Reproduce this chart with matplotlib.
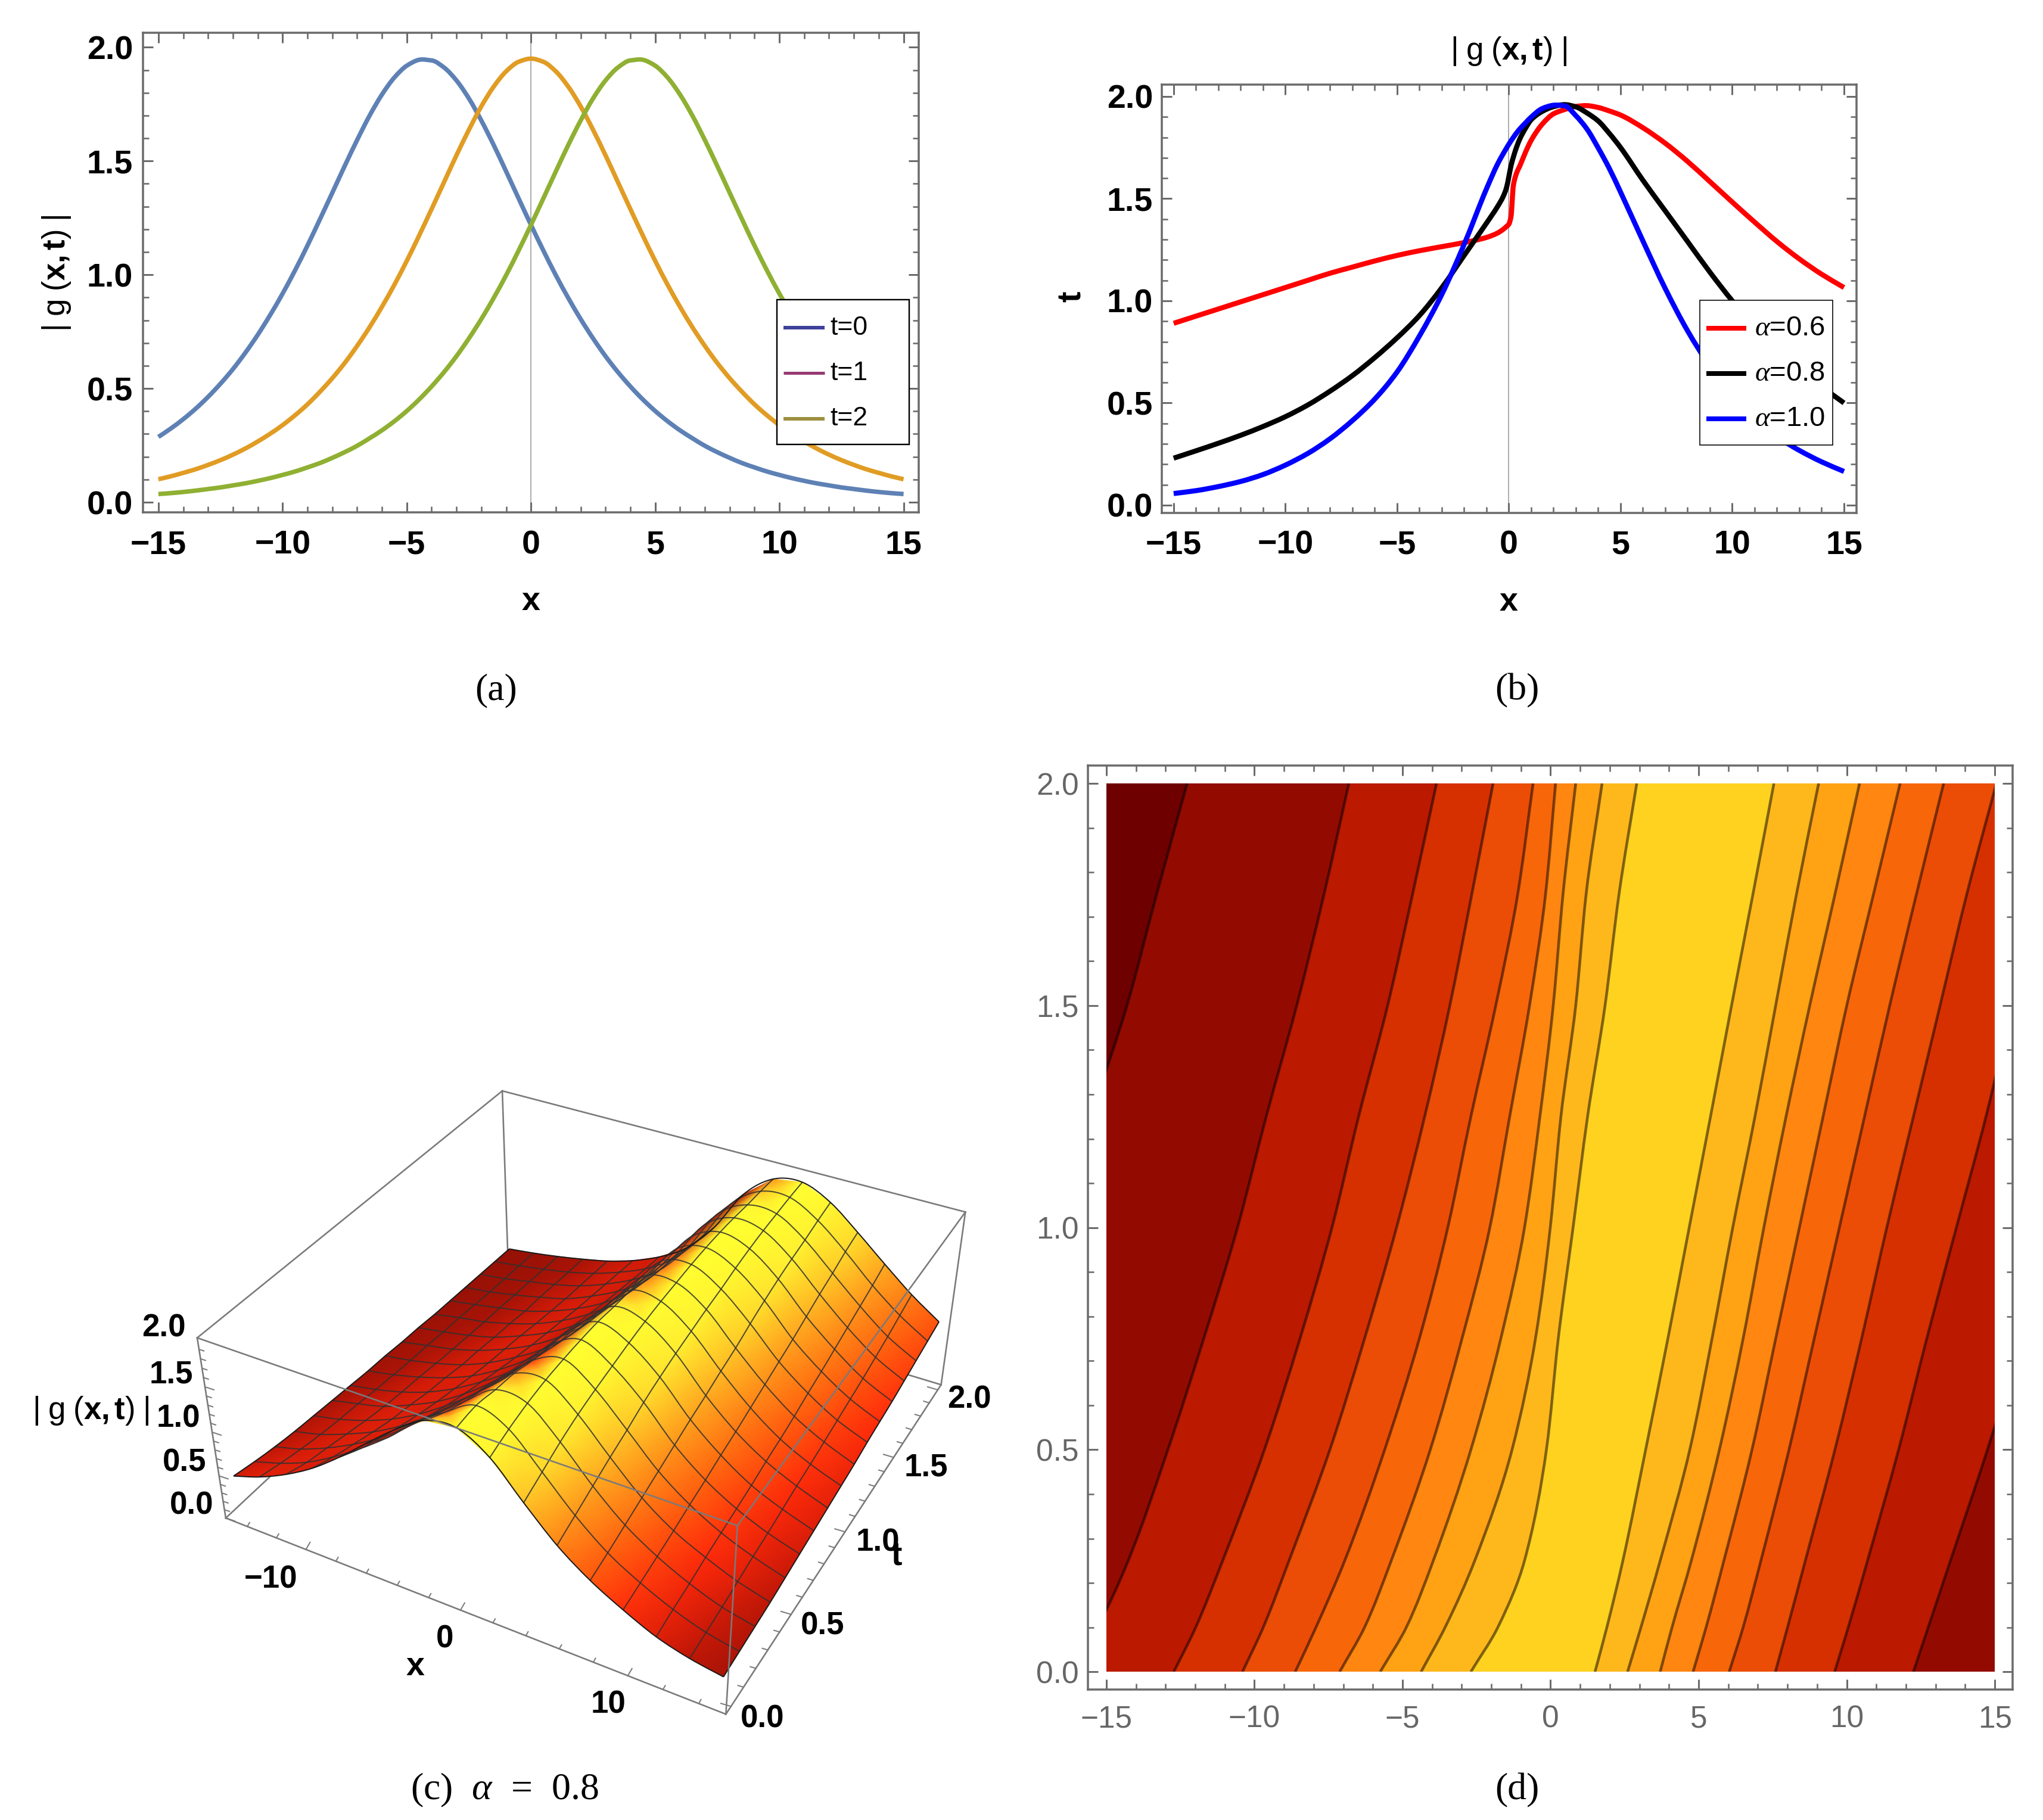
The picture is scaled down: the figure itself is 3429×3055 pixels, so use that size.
import numpy as np
import matplotlib
matplotlib.use("Agg")
import matplotlib.pyplot as plt
from matplotlib.colors import LinearSegmentedColormap
from matplotlib.patches import PathPatch, Rectangle
from matplotlib.path import Path

W, H = 3430, 3055
DPI = 100
SANS = "Liberation Sans"
SERIF = "Liberation Serif"
GREY = "#6b6b6b"
BOX_GREY = "#7a7a7a"

plt.rcParams["font.family"] = SANS
plt.rcParams["mathtext.fontset"] = "custom"
plt.rcParams["mathtext.it"] = "Liberation Serif:italic"
plt.rcParams["mathtext.rm"] = "Liberation Serif"
plt.rcParams["mathtext.sf"] = "Liberation Sans"
plt.rcParams["mathtext.bf"] = "Liberation Sans:bold"

# panel (a): |g| against x at three times
x_a = [-15 + 0.5 * i for i in range(61)]
g_t0 = [.287,.324,.365,.411,.463,.521,.585,.657,.736,.823,.917,1.019,1.128,1.243,1.360,1.478,1.592,1.699,1.792,1.867,1.919,1.945,1.942,1.911,1.854,1.775,1.678,1.570,1.454,1.336,1.219,1.106,.998,.898,.805,.720,.642,.572,.509,.452,.401,.356,.316,.281,.248,.220,.195,.172,.153,.135,.120,.106,.094,.083,.074,.065,.058,.051,.045,.040,.036]
g_t1 = [.101,.114,.129,.145,.164,.185,.209,.236,.267,.301,.339,.382,.430,.485,.545,.612,.687,.769,.859,.956,1.061,1.173,1.289,1.407,1.525,1.637,1.740,1.827,1.894,1.936,1.950,1.936,1.894,1.827,1.740,1.637,1.525,1.407,1.289,1.173,1.061,.956,.859,.769,.687,.612,.545,.485,.430,.382,.339,.301,.267,.236,.209,.185,.164,.145,.129,.114,.101]
g_t2 = [.036,.040,.045,.051,.058,.065,.074,.083,.094,.106,.120,.135,.153,.172,.195,.220,.248,.281,.316,.356,.401,.452,.509,.572,.642,.720,.805,.898,.998,1.106,1.219,1.336,1.454,1.570,1.678,1.775,1.854,1.911,1.942,1.945,1.919,1.867,1.792,1.699,1.592,1.478,1.360,1.243,1.128,1.019,.917,.823,.736,.657,.585,.521,.463,.411,.365,.324,.287]
legend_a = ["t=0", "t=1", "t=2"]

# panel (b): |g| against x for three fractional orders
x_b = [-15,-14,-13,-12,-11,-10,-9,-8,-7,-6,-5,-4,-3,-2,-1,-.5,-.25,-.1,0,.1,.2,.35,.5,.75,1,1.5,2,2.5,3,3.5,4,4.5,5,6,7,8,9,10,11,12,13,14,15]
g_a06 = [.890,.925,.960,.995,1.030,1.065,1.100,1.135,1.165,1.195,1.222,1.245,1.265,1.285,1.310,1.332,1.350,1.364,1.375,1.414,1.562,1.626,1.662,1.728,1.785,1.865,1.915,1.936,1.951,1.955,1.946,1.929,1.909,1.847,1.771,1.682,1.583,1.483,1.385,1.290,1.205,1.130,1.065]
g_a08 = [.230,.266,.303,.342,.385,.433,.490,.558,.634,.722,.819,.928,1.064,1.222,1.380,1.462,1.511,1.555,1.607,1.662,1.702,1.753,1.794,1.845,1.886,1.927,1.950,1.960,1.949,1.919,1.880,1.819,1.750,1.590,1.440,1.290,1.140,1.000,.875,.765,.665,.580,.500]
g_a10 = [.057,.071,.091,.116,.150,.196,.253,.325,.414,.519,.652,.828,1.031,1.276,1.548,1.670,1.720,1.748,1.766,1.783,1.799,1.822,1.842,1.871,1.899,1.941,1.957,1.954,1.906,1.840,1.748,1.647,1.532,1.293,1.060,.853,.679,.530,.420,.335,.268,.212,.165]
legend_b = [r"$\alpha$=0.6", r"$\alpha$=0.8", r"$\alpha$=1.0"]

# panel (c): surface heights, one row per t, one column per x
x_c = [-15 + 1.875 * i for i in range(17)]
t_c = [0.125 * i for i in range(17)]
z_c = [
    [.46,.57,.72,.91,1.15,1.42,1.68,1.89,1.93,1.74,1.39,1.06,.81,.62,.46,.36,.30],
    [.41,.51,.64,.82,1.03,1.27,1.55,1.77,1.95,1.82,1.49,1.15,.87,.67,.51,.39,.32],
    [.37,.46,.59,.75,.94,1.18,1.43,1.68,1.91,1.88,1.59,1.24,.94,.72,.55,.42,.34],
    [.34,.42,.54,.68,.86,1.08,1.34,1.61,1.88,1.92,1.67,1.33,1.01,.77,.60,.46,.36],
    [.32,.39,.49,.62,.79,1.00,1.24,1.51,1.82,1.94,1.73,1.41,1.08,.83,.64,.50,.39],
    [.30,.37,.45,.58,.73,.93,1.17,1.45,1.79,1.95,1.78,1.50,1.15,.88,.68,.53,.42],
    [.28,.34,.42,.53,.68,.87,1.09,1.37,1.74,1.95,1.83,1.57,1.22,.94,.72,.57,.45],
    [.26,.32,.40,.50,.63,.81,1.03,1.30,1.67,1.93,1.87,1.63,1.28,.99,.77,.61,.48],
    [.25,.30,.37,.46,.59,.76,.96,1.23,1.60,1.92,1.90,1.68,1.35,1.05,.81,.64,.51],
    [.23,.29,.35,.44,.56,.71,.91,1.17,1.56,1.90,1.92,1.73,1.41,1.11,.86,.68,.54],
    [.22,.27,.33,.41,.53,.67,.86,1.12,1.50,1.88,1.94,1.77,1.49,1.17,.92,.72,.58],
    [.20,.26,.31,.39,.49,.63,.81,1.06,1.43,1.84,1.95,1.82,1.56,1.23,.97,.76,.61],
    [.19,.24,.30,.36,.46,.59,.76,1.00,1.38,1.80,1.95,1.86,1.62,1.30,1.03,.80,.64],
    [.18,.22,.28,.35,.43,.56,.72,.94,1.32,1.77,1.94,1.89,1.67,1.37,1.09,.85,.68],
    [.17,.21,.27,.33,.41,.53,.68,.89,1.25,1.73,1.92,1.91,1.71,1.43,1.15,.90,.72],
    [.16,.20,.25,.31,.39,.50,.64,.85,1.20,1.68,1.91,1.93,1.76,1.50,1.21,.96,.76],
    [.15,.19,.24,.30,.37,.47,.61,.81,1.15,1.63,1.89,1.94,1.80,1.55,1.28,1.02,.80],
]

# panel (d): x position of each contour line at these t rows, left to right
t_d = [0, .1, .25, .5, .75, 1, 1.25, 1.5, 1.75, 2]
contour_x = [
    [-21.5,-20.8,-20,-18.6,-17.5,-16.5,-15.5,-14.3,-13.3,-12.27],
    [-16.2,-15.3,-14.26,-12.92,-11.71,-10.57,-9.6,-8.57,-7.65,-6.81],
    [-12.72,-11.98,-11.07,-9.66,-8.46,-7.38,-6.48,-5.5,-4.66,-3.85],
    [-10.4,-9.7,-8.83,-7.45,-6.28,-5.2,-4.25,-3.4,-2.66,-1.94],
    [-8.62,-7.92,-6.95,-5.6,-4.43,-3.47,-2.69,-1.85,-1.11,-.59],
    [-7.12,-6.28,-5.38,-4.06,-2.99,-2.05,-1.38,-.71,-.17,.17],
    [-5.75,-4.87,-3.96,-2.69,-1.68,-.88,-.36,.09,.42,.85],
    [-4.37,-3.56,-2.56,-1.30,-.51,-.01,.35,.85,1.2,1.74],
    [-2.69,-1.78,-.88,-.14,.26,.76,1.25,1.84,2.31,2.91],
    [1.5,1.9,2.44,3.21,3.96,4.68,5.4,6.11,6.83,7.54],
    [2.6,3.05,3.7,4.7,5.45,6.15,6.9,7.6,8.3,9.05],
    [3.7,4.1,4.75,5.7,6.5,7.2,7.95,8.75,9.6,10.43],
    [4.81,5.25,5.85,6.8,7.6,8.4,9.2,10.0,10.9,11.8],
    [6.03,6.5,7.1,8.05,8.9,9.75,10.6,11.45,12.35,13.27],
    [7.59,8.0,8.6,9.6,10.5,11.35,12.25,13.15,14.05,15.05],
    [9.59,10.05,10.7,11.75,12.7,13.7,14.7,15.6,16.6,17.6],
    [12.25,12.75,13.5,14.75,15.9,17,18.1,19.2,20.3,21.4],
]
band_colors = ["#6e0000","#930b00","#bb1900","#d63000","#eb4d06","#f8660a","#ff8610","#ffa214","#ffb81c","#ffd220",
               "#ffb81c","#ffa214","#ff8610","#f8660a","#eb4d06","#d63000","#bb1900","#930b00"]

GX_LABEL = r"$\mathsf{|\ g\ (}\mathbf{x,t}\mathsf{)\ |}$"


def px(v):
    return v * 72 / DPI


def curve_through(xk, yk):
    # bezier segments through the read points, the points themselves stay as they are
    xk = np.asarray(xk, float)
    yk = np.asarray(yk, float)
    h = np.diff(xk)
    d = np.diff(yk) / h
    m = np.zeros_like(yk)
    m[0], m[-1] = d[0], d[-1]
    for i in range(1, len(xk) - 1):
        if d[i - 1] * d[i] > 0:
            w1, w2 = 2 * h[i] + h[i - 1], h[i] + 2 * h[i - 1]
            m[i] = (w1 + w2) / (w1 / d[i - 1] + w2 / d[i])
        else:
            # at a peak keep the central slope, a zero slope flattens the top
            m[i] = (yk[i + 1] - yk[i - 1]) / (xk[i + 1] - xk[i - 1])
    verts = [(xk[0], yk[0])]
    for i in range(len(h)):
        verts.append((xk[i] + h[i] / 3, yk[i] + m[i] * h[i] / 3))
        verts.append((xk[i + 1] - h[i] / 3, yk[i + 1] - m[i + 1] * h[i] / 3))
        verts.append((xk[i + 1], yk[i + 1]))
    return verts


def bezier_codes(n):
    return [Path.MOVETO] + [Path.CURVE4] * (n - 1)


def screen_curve(xs, ys):
    # catmull-rom through projected points
    p = np.column_stack([xs, ys])
    verts = [tuple(p[0])]
    for i in range(len(p) - 1):
        p0 = p[max(i - 1, 0)]
        p3 = p[min(i + 2, len(p) - 1)]
        verts.append(tuple(p[i] + (p[i + 1] - p0) / 6))
        verts.append(tuple(p[i + 1] - (p3 - p[i]) / 6))
        verts.append(tuple(p[i + 1]))
    return Path(verts, bezier_codes(len(verts)))


fig = plt.figure(figsize=(W / DPI, H / DPI), dpi=DPI)
page = fig.add_axes([0, 0, 1, 1], zorder=5)
page.set_xlim(0, W)
page.set_ylim(H, 0)
page.axis("off")


def panel(left, top, right, bottom, xlim, ylim, label_size, color, weight, pad_x, pad_y):
    ax = fig.add_axes([left / W, 1 - bottom / H, (right - left) / W, (bottom - top) / H])
    ax.set_xlim(*xlim)
    ax.set_ylim(*ylim)
    ax.set_xticks(np.arange(-15, 16, 5))
    ax.set_xticks(np.arange(-15, 16, 1), minor=True)
    ax.set_yticks(np.arange(0, 2.01, 0.5))
    ax.set_yticks(np.arange(0, 2.01, 0.1), minor=True)
    ax.set_yticklabels(["0.0", "0.5", "1.0", "1.5", "2.0"])
    ax.tick_params(which="major", direction="in", length=px(17), width=px(3), color=GREY, top=True, right=True)
    ax.tick_params(which="minor", direction="in", length=px(10), width=px(2.6), color=GREY, top=True, right=True)
    ax.tick_params(axis="x", which="major", pad=px(pad_x), labelsize=label_size, labelcolor=color)
    ax.tick_params(axis="y", which="major", pad=px(pad_y), labelsize=label_size, labelcolor=color)
    for lab in ax.get_xticklabels() + ax.get_yticklabels():
        lab.set_fontweight(weight)
    for sp in ax.spines.values():
        sp.set_color(GREY)
        sp.set_linewidth(px(3.5))
    return ax


def draw_curve(ax, xs, ys, color, width):
    verts = curve_through(xs, ys)
    ax.add_patch(PathPatch(Path(verts, bezier_codes(len(verts))), fill=False, ec=color, lw=px(width),
                           capstyle="butt", zorder=2))


# (a)
ax_a = panel(240, 54.5, 1542, 860, (-15.62, 15.61), (-0.0445, 2.065), 40, "black", "bold", 29, 17)
ax_a.axvline(0, color="#9a9a9a", lw=px(1.6), zorder=1)
draw_curve(ax_a, x_a, g_t0, "#5e81b5", 7.5)
draw_curve(ax_a, x_a, g_t1, "#e19c24", 7.5)
draw_curve(ax_a, x_a, g_t2, "#8fb032", 7.5)

# (b)
ax_b = panel(1950, 142, 3116, 861, (-15.53, 15.56), (-0.038, 2.058), 40, "black", "bold", 29, 15)
ax_b.axvline(0, color="#9a9a9a", lw=px(1.6), zorder=1)
draw_curve(ax_b, x_b, g_a06, "#ff0000", 8.5)
draw_curve(ax_b, x_b, g_a08, "#000000", 8.5)
draw_curve(ax_b, x_b, g_a10, "#0000ff", 8.5)

# (d)
ax_d = panel(1826, 1284.5, 3378, 2836, (-15.62, 15.6), (-0.04, 2.041), 37, "#666666", "normal", 26, 15)
clip_d = Rectangle((-15, 0), 30, 2, transform=ax_d.transData)
base = ax_d.fill_betweenx(t_d, -40, 40, color=band_colors[0], lw=0, zorder=1)
base.set_clip_path(clip_d)
contour_paths = []
for i, xs in enumerate(contour_x):
    verts = [(v, u) for u, v in curve_through(t_d, xs)]
    contour_paths.append(Path(verts, bezier_codes(len(verts))))
    outline = Path(verts + [(40, t_d[-1]), (40, t_d[0]), verts[0]],
                   bezier_codes(len(verts)) + [Path.LINETO, Path.LINETO, Path.CLOSEPOLY])
    band = ax_d.add_patch(PathPatch(outline, fc=band_colors[i + 1], ec="none", lw=0, zorder=1 + i * 0.01))
    band.set_clip_path(clip_d)
for pth in contour_paths:
    ln = ax_d.add_patch(PathPatch(pth, fill=False, ec=(0, 0, 0, 0.5), lw=px(4.6), zorder=2))
    ln.set_clip_path(clip_d)

# (c): camera fitted to the box corners seen in the picture, the box is padded around the data
XL, XR = -15.5, 15.5
TF, TB = -0.04, 2.04
ZB, ZT = 0.0, 2.02
corner_world = [(XL,TF,ZB),(XR,TF,ZB),(XR,TB,ZB),(XL,TF,ZT),(XR,TF,ZT),(XR,TB,ZT),(XL,TB,ZT)]
corner_px = [(379,2548),(1219,2878),(1579,2324),(331,2246),(1237,2560),(1621,2035),(843,1831)]
rows = []
rhs = []
for (cx, ct, cz), (u, v) in zip(corner_world, corner_px):
    rows.append([cx, ct, cz, 1, 0, 0, 0, 0, -u * cx, -u * ct, -u * cz])
    rhs.append(u)
    rows.append([0, 0, 0, 0, cx, ct, cz, 1, -v * cx, -v * ct, -v * cz])
    rhs.append(v)
cam = np.append(np.linalg.lstsq(np.array(rows, float), np.array(rhs, float), rcond=None)[0], 1).reshape(3, 4)


def project(xv, tv, zv):
    xv, tv, zv = np.asarray(xv, float), np.asarray(tv, float), np.asarray(zv, float)
    w = cam[2, 0] * xv + cam[2, 1] * tv + cam[2, 2] * zv + cam[2, 3]
    return ((cam[0, 0] * xv + cam[0, 1] * tv + cam[0, 2] * zv + cam[0, 3]) / w,
            (cam[1, 0] * xv + cam[1, 1] * tv + cam[1, 2] * zv + cam[1, 3]) / w)


def box_edge(a, b, z):
    xs, ys = project(*zip(a, b))
    page.plot(xs, ys, color=BOX_GREY, lw=px(2.6), zorder=z)


for a, b in [((XL,TB,ZT),(XL,TF,ZT)), ((XL,TB,ZT),(XR,TB,ZT)), ((XL,TB,ZT),(XL,TB,ZB)),
             ((XL,TF,ZB),(XL,TB,ZB)), ((XL,TB,ZB),(XR,TB,ZB)),
             ((XL,TF,ZB),(XR,TF,ZB)), ((XR,TF,ZB),(XR,TB,ZB)),
             ((XL,TF,ZB),(XL,TF,ZT)), ((XR,TB,ZB),(XR,TB,ZT))]:
    box_edge(a, b, 1)

# ticks along the three drawn axes
for xv in range(-14, 15, 2):
    bx_, by_ = project(xv, TF, ZB)
    k = 1.0 if xv % 10 == 0 else 0.55
    page.plot([bx_, bx_ + 7 * k], [by_, by_ - 12 * k], color=BOX_GREY, lw=px(2), zorder=1)
for i in range(0, 21):
    bx_, by_ = project(XR, i * 0.1, ZB)
    k = 1.0 if i % 5 == 0 else 0.55
    page.plot([bx_, bx_ - 17 * k], [by_, by_ - 5 * k], color=BOX_GREY, lw=px(2), zorder=1)
for i in range(0, 20):
    bx_, by_ = project(XL, TF, i * 0.1)
    k = 1.0 if i % 5 == 0 else 0.55
    page.plot([bx_, bx_ + 15 * k], [by_, by_ + 5 * k], color=BOX_GREY, lw=px(2), zorder=1)

surf_cmap = LinearSegmentedColormap.from_list("surf", [
    (0.0, "#5a0a05"), (0.12, "#8b0f05"), (0.3, "#cc1a08"), (0.45, "#ff2a0a"),
    (0.6, "#ff6a10"), (0.75, "#ffa820"), (0.9, "#ffee30"), (1.0, "#ffff30")])

Zg = np.array(z_c)
Xg, Tg = np.meshgrid(x_c, t_c)
slope = np.gradient(Zg, np.array(x_c), axis=1)
lit = np.interp(Zg, [0, .3, .45, .6, .8, 1.1, 1.5, 1.95], [.1, .2, .35, .45, .55, .68, .85, 1.0])
shadow = np.clip((slope - 0.04) / 0.12, 0, 1)
shade = lit * (1 - shadow) + (0.1 + 0.06 * Zg) * shadow

PX, PY = project(Xg, Tg, Zg)
# far side first: t descending, x ascending
page.pcolormesh(PX[::-1], PY[::-1], shade[::-1], cmap=surf_cmap, vmin=0, vmax=1, shading="gouraud", zorder=2)
for j in range(1, 16):
    page.add_patch(PathPatch(screen_curve(PX[j], PY[j]), fill=False, ec="#303030", alpha=0.85, lw=px(2), zorder=2.1))
    page.add_patch(PathPatch(screen_curve(PX[:, j], PY[:, j]), fill=False, ec="#303030", alpha=0.85, lw=px(2), zorder=2.1))
for xs, ys in [(PX[0], PY[0]), (PX[-1], PY[-1]), (PX[:, 0], PY[:, 0]), (PX[:, -1], PY[:, -1])]:
    page.add_patch(PathPatch(screen_curve(xs, ys), fill=False, ec="#1a1a1a", lw=px(2), zorder=2.2))

for a, b in [((XL,TF,ZT),(XR,TF,ZT)), ((XR,TF,ZT),(XR,TB,ZT)), ((XR,TF,ZB),(XR,TF,ZT))]:
    box_edge(a, b, 3)

bold = dict(family=SANS, weight="bold", ha="center", va="center", color="black", zorder=6)
for txt, u, v in [("2.0",275,2230),("1.5",287,2307),("1.0",299,2382),("0.5",310,2455),("0.0",322,2527),
                  ("\u221210",455,2651),("0",747,2751),("10",1021,2861),
                  ("0.0",1280,2886),("0.5",1381,2730),("1.0",1473,2589),("1.5",1554,2464),("2.0",1627,2349)]:
    page.text(u, v, txt, fontsize=38, **bold)
page.text(697, 2798, "x", fontsize=40, **bold)
page.text(1505, 2614, "t", fontsize=40, **bold)
page.text(152, 2368, GX_LABEL, fontsize=38, **bold)

# labels of (a), (b)
page.text(891, 1010, "x", fontsize=40, **bold)
page.text(95, 459, GX_LABEL, fontsize=38, rotation=90, **bold)
page.text(2532, 1011, "x", fontsize=40, **bold)
page.text(1800, 498, "t", fontsize=40, rotation=90, **bold)
page.text(2532, 86, GX_LABEL, fontsize=38, **bold)


# legends, their swatches differ from the curves in the reference
def legend_box(x0, y0, x1, y1, line_x0, line_x1, text_x, row_y, labels, colors, widths, edge, size):
    page.add_patch(Rectangle((x0, y0), x1 - x0, y1 - y0, fc="white", ec="black", lw=px(edge), zorder=5))
    for y, lab, c, w in zip(row_y, labels, colors, widths):
        page.plot([line_x0, line_x1], [y, y], color=c, lw=px(w), solid_capstyle="butt", zorder=6)
        page.text(text_x, y, lab, fontsize=size, color="black", ha="left", va="center", zorder=6)


legend_box(1304, 503, 1526, 746, 1315, 1384, 1393, [550, 626, 703], legend_a,
           ["#3f3f9c", "#973a72", "#9c8f3f"], [6, 5, 6], 2.4, 32)
legend_box(2853, 504, 3076, 747, 2864, 2931, 2945, [551, 627, 703], legend_b,
           ["#ff0000", "#000000", "#0000ff"], [8, 8, 8], 1.6, 34)

# captions
cap = dict(family=SERIF, ha="center", va="center", color="black", fontsize=46, zorder=6)
page.text(833, 1159, "(a)", **cap)
page.text(2546, 1159, "(b)", **cap)
page.text(847, 3005, r"(c)  $\alpha$  =  0.8", **cap)
page.text(2546, 3005, "(d)", **cap)

fig.savefig("out.png", dpi=DPI)
